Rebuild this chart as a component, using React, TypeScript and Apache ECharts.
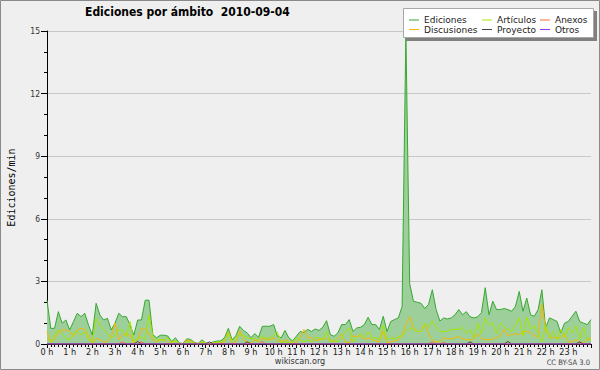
import React, { useEffect, useRef } from "react";
import * as echarts from "echarts";

// 10-minute samples from 0 h to 24 h (145 points)
const STEPS_PER_HOUR = 6;
const HOUR_TICKS = ["0", "1", "2", "3", "4", "5", "6", "7", "8", "9", "10", "11", "12", "13", "14", "15", "16", "17", "18", "19", "20", "21", "22", "23"];

const ediciones = [
  2.1, 0.75, 0.75, 1.55, 1.0, 1.15, 0.67, 1.07, 1.47, 1.31, 1.47, 0.9, 0.43, 1.95, 1.39, 1.15, 1.23, 0.67, 1.0, 1.47,
  1.31, 1.31, 0.9, 0.43, 1.15, 1.15, 2.1, 2.1, 0.45, 0.3, 0.42, 0.42, 0.38, 0.12, 0.3, 0.05, 0.02, 0.25, 0.22, 0.08,
  0.02, 0.2, 0.05, 0.03, 0.1, 0.14, 0.15, 0.3, 0.75, 0.2, 0.4, 0.85, 0.65, 0.53, 0.3, 0.5, 0.32, 0.85, 0.85, 0.85,
  0.93, 0.37, 0.3, 0.65, 0.3, 0.15, 0.37, 0.6, 0.55, 0.7, 0.6, 0.72, 0.65, 0.8, 1.12, 0.45, 0.37, 0.53, 0.93, 0.93,
  1.17, 0.6, 0.77, 0.8, 0.93, 1.28, 0.93, 0.93, 0.7, 1.33, 0.6, 1.08, 1.17, 1.25, 1.8, 14.9, 2.9, 2.05, 2.0, 1.95,
  1.7, 1.9, 2.6, 1.65, 1.1, 1.25, 1.2, 1.25, 1.4, 1.65, 1.4, 1.55, 1.3, 1.25, 1.3, 1.5, 2.7, 1.4, 2.05, 1.65,
  1.65, 1.7, 1.65, 1.57, 1.8, 2.52, 1.57, 2.2, 1.4, 1.33, 1.65, 2.6, 0.77, 1.25, 1.17, 1.08, 0.53, 1.0, 1.08, 1.33,
  1.57, 1.08, 1.0, 0.93, 1.17,
];

const articulos = [
  0.27, 0.1, 0.43, 0.67, 0.5, 0.27, 0.2, 0.5, 0.6, 0.43, 0.6, 0.2, 0.1, 1.23, 0.9, 0.67, 0.5, 0.27, 0.43, 0.67,
  0.67, 0.35, 1.07, 0.1, 0.27, 0.35, 0.2, 1.4, 0.35, 0.2, 0.2, 0.2, 0.3, 0.05, 0.15, 0.02, 0.0, 0.1, 0.1, 0.02,
  0.0, 0.1, 0.05, 0.02, 0.05, 0.1, 0.1, 0.2, 0.5, 0.15, 0.3, 0.45, 0.4, 0.3, 0.25, 0.25, 0.2, 0.4, 0.25, 0.3,
  0.4, 0.58, 0.05, 0.1, 0.05, 0.05, 0.3, 0.2, 0.1, 0.2, 0.1, 0.3, 0.3, 0.2, 0.6, 0.1, 0.2, 0.1, 0.3, 0.6,
  0.77, 0.1, 0.3, 0.5, 0.3, 0.6, 0.3, 0.3, 0.2, 0.9, 0.2, 0.3, 0.25, 0.35, 0.4, 0.6, 0.8, 0.7, 0.6, 0.6,
  1.0, 0.8, 1.1, 0.8, 0.6, 0.6, 0.6, 0.7, 0.7, 0.7, 0.8, 0.5, 0.7, 0.3, 1.0, 0.5, 1.25, 0.9, 1.0, 0.5,
  1.0, 0.8, 0.7, 0.6, 0.9, 1.25, 0.4, 1.3, 0.7, 0.9, 0.5, 0.1, 0.9, 0.3, 0.6, 0.2, 0.7, 0.3, 0.8, 0.5,
  0.9, 0.2, 0.8, 0.2, 0.2,
];

const discusiones = [
  0.6, 0.1, 0.2, 0.6, 0.67, 0.67, 0.6, 0.35, 0.67, 0.75, 0.7, 0.43, 0.03, 0.27, 0.2, 0.1, 0.1, 0.35, 1.0, 0.2,
  0.43, 0.5, 0.43, 0.0, 0.2, 0.75, 0.75, 0.5, 0.2, 0.1, 0.2, 0.2, 0.0, 0.1, 0.15, 0.02, 0.0, 0.2, 0.15, 0.05,
  0.0, 0.1, 0.0, 0.0, 0.05, 0.05, 0.05, 0.1, 0.6, 0.05, 0.1, 0.65, 0.2, 0.1, 0.05, 0.2, 0.1, 0.3, 0.2, 0.2,
  0.3, 0.15, 0.1, 0.2, 0.15, 0.05, 0.05, 0.3, 0.7, 0.3, 0.3, 0.15, 0.2, 0.25, 0.3, 0.15, 0.1, 0.3, 0.45, 0.1,
  0.05, 0.4, 0.35, 0.4, 0.2, 0.3, 0.2, 0.15, 0.1, 0.6, 0.05, 0.1, 0.15, 0.2, 0.4, 0.9, 1.3, 0.8, 0.6, 0.6,
  0.9, 0.5, 0.2, 0.1, 0.1, 0.3, 0.25, 0.25, 0.3, 0.35, 0.25, 0.2, 0.2, 0.25, 0.5, 0.25, 0.2, 0.2, 0.25, 0.3,
  0.4, 0.7, 0.4, 0.45, 0.5, 0.45, 0.6, 0.6, 0.55, 0.4, 0.35, 1.9, 0.7, 0.3, 0.3, 0.3, 0.3, 0.5, 0.1, 0.1,
  0.2, 0.1, 0.05, 0.2, 0.3,
];

const anexos = [
  0, 0, 0, 0, 0, 0, 0, 0, 0, 0, 0, 0, 0, 0, 0, 0, 0, 0, 0, 0,
  0.1, 0, 0, 0, 0, 0.1, 0, 0, 0, 0, 0, 0, 0, 0, 0, 0, 0, 0, 0, 0,
  0, 0, 0, 0, 0, 0, 0, 0, 0, 0, 0, 0, 0, 0, 0, 0, 0, 0.12, 0, 0,
  0, 0, 0, 0, 0, 0, 0, 0, 0, 0, 0, 0, 0, 0, 0, 0, 0, 0, 0, 0,
  0, 0, 0, 0, 0, 0, 0, 0, 0, 0, 0, 0, 0, 0, 0, 0, 0, 0, 0, 0,
  0, 0, 0.1, 0, 0, 0.08, 0, 0, 0, 0, 0, 0, 0, 0, 0, 0, 0, 0, 0, 0,
  0, 0, 0, 0, 0, 0, 0, 0, 0, 0, 0, 0, 0, 0, 0, 0, 0, 0, 0, 0,
  0, 0, 0, 0, 0,
];

const proyecto = [
  0, 0, 0, 0, 0, 0, 0, 0, 0, 0, 0, 0, 0, 0, 0, 0, 0, 0, 0, 0,
  0, 0, 0, 0, 0.12, 0, 0, 0, 0, 0, 0, 0, 0, 0, 0, 0, 0, 0, 0, 0,
  0, 0, 0, 0.1, 0, 0, 0, 0, 0, 0, 0, 0, 0, 0.1, 0, 0, 0, 0, 0, 0,
  0, 0, 0, 0, 0, 0, 0, 0, 0, 0, 0, 0, 0, 0, 0, 0, 0, 0, 0, 0,
  0, 0, 0, 0, 0, 0, 0, 0, 0, 0, 0, 0, 0, 0, 0, 0, 0, 0, 0, 0,
  0, 0, 0, 0, 0, 0, 0, 0, 0, 0, 0, 0, 0.1, 0, 0, 0, 0, 0, 0, 0,
  0, 0, 0.12, 0, 0, 0, 0, 0, 0, 0, 0, 0, 0, 0, 0, 0, 0, 0, 0, 0,
  0, 0.1, 0, 0, 0,
];

const otros = [
  0, 0, 0, 0, 0, 0, 0, 0, 0, 0, 0, 0, 0, 0, 0, 0, 0, 0, 0, 0,
  0, 0, 0, 0, 0, 0, 0, 0, 0, 0, 0, 0, 0, 0, 0, 0, 0, 0, 0, 0,
  0, 0, 0, 0, 0, 0, 0, 0, 0, 0, 0, 0, 0, 0, 0, 0, 0, 0, 0, 0,
  0, 0, 0, 0, 0, 0, 0, 0, 0, 0, 0, 0, 0, 0, 0, 0, 0, 0, 0, 0,
  0, 0, 0, 0, 0, 0, 0, 0, 0, 0, 0, 0, 0, 0, 0, 0, 0, 0, 0, 0,
  0, 0, 0, 0, 0, 0, 0, 0, 0, 0, 0, 0, 0, 0, 0, 0, 0, 0, 0, 0,
  0, 0, 0, 0, 0, 0, 0, 0, 0, 0, 0, 0, 0, 0, 0, 0, 0, 0, 0, 0,
  0, 0, 0, 0, 0,
];

const TITLE = "Ediciones por ámbito  2010-09-04";
const Y_NAME = "Ediciones/min";

const toXY = (arr: number[]) => arr.map((v, i) => [i / STEPS_PER_HOUR, v]);

export default function App() {
  const ref = useRef<HTMLDivElement>(null);
  useEffect(() => {
    if (!ref.current) return;
    const chart = echarts.init(ref.current, null, { renderer: "svg" });
    const font = "DejaVu Sans";
    const cond = "DejaVu Sans Condensed";
    const lineSeries = (name: string, data: number[], color: string, z = 3) => ({
      name,
      type: "line",
      data: toXY(data),
      symbol: "none",
      color,
      lineStyle: { color, width: 1 },
      itemStyle: { color },
      z,
    });
    const legendBase = {
      orient: "vertical",
      top: 15.5,
      padding: 0,
      itemGap: 0.5,
      itemWidth: 10,
      itemHeight: 1,
      icon: "rect",
      z: 12,
      textStyle: { fontFamily: font, fontSize: 9, lineHeight: 9, color: "#222", padding: [0, 0, 0, 0] },
    };
    chart.setOption({
      animation: false,
      backgroundColor: "#efefef",
      title: {
        text: TITLE,
        left: 85,
        top: 6,
        padding: 0,
        textStyle: { fontFamily: cond, fontSize: 12, fontWeight: "bold", color: "#000" },
      },
      legend: [
        { ...legendBase, left: 409, data: ["Ediciones", "Discusiones"] },
        { ...legendBase, left: 482, data: ["Artículos", "Proyecto"] },
        { ...legendBase, left: 540, data: ["Anexos", "Otros"] },
      ],
      grid: { left: 47, right: 9, top: 31, bottom: 26, containLabel: false, outerBoundsMode: "none" },
      xAxis: {
        type: "value",
        min: 0,
        max: 24,
        interval: 1,
        axisLine: { show: true, lineStyle: { color: "#000", width: 1 } },
        axisTick: { show: true, length: 4, lineStyle: { color: "#000" } },
        minorTick: { show: true, splitNumber: 6, length: 3, lineStyle: { color: "#000" } },
        splitLine: { show: false },
        axisLabel: {
          margin: 3,
          fontFamily: cond,
          fontSize: 9,
          color: "#222",
          formatter: (v: number) => (v < 24 ? HOUR_TICKS[v] + " h" : ""),
        },
      },
      yAxis: {
        type: "value",
        min: 0,
        max: 15,
        interval: 3,
        name: Y_NAME,
        nameLocation: "middle",
        nameRotate: 90,
        nameGap: 31,
        nameTextStyle: { fontFamily: "DejaVu Sans Mono", fontSize: 10, color: "#000" },
        axisLine: { show: true, lineStyle: { color: "#000", width: 1 } },
        axisTick: { show: true, length: 6, lineStyle: { color: "#000" } },
        minorTick: { show: true, splitNumber: 3, length: 3, lineStyle: { color: "#000" } },
        splitLine: { show: true, lineStyle: { color: "#c8c8c8", width: 1 } },
        axisLabel: { margin: 7, fontFamily: cond, fontSize: 8.5, color: "#333" },
      },
      series: [
        {
          ...lineSeries("Ediciones", ediciones, "#36a830", 2),
          areaStyle: { color: "#9dcf9a", opacity: 1 },
        },
        lineSeries("Discusiones", discusiones, "#f6b800"),
        lineSeries("Artículos", articulos, "#a6e400"),
        lineSeries("Anexos", anexos, "#ff6a33"),
        lineSeries("Proyecto", proyecto, "#444444"),
        lineSeries("Otros", otros, "#9a33ff"),
      ],
      graphic: [
        { type: "rect", z: 10, shape: { x: 406, y: 11, width: 191, height: 30 }, style: { fill: "#808080" } },
        { type: "rect", z: 11, shape: { x: 403.5, y: 8.5, width: 190, height: 29 }, style: { fill: "#ffffff", stroke: "#a8a8a8", lineWidth: 1 } },
        {
          type: "text",
          z: 10,
          x: 300,
          y: 361,
          style: { text: "wikiscan.org", fontFamily: cond, fontSize: 9, fill: "#333", textAlign: "center", textVerticalAlign: "middle" },
        },
        {
          type: "text",
          z: 10,
          x: 590,
          y: 362,
          style: { text: "CC BY-SA 3.0", fontFamily: cond, fontSize: 7.5, fill: "#444", textAlign: "right", textVerticalAlign: "middle" },
        },
        {
          type: "rect",
          z: 20,
          shape: { x: 0.5, y: 0.5, width: 599, height: 369 },
          style: { fill: "none", stroke: "#8a8a8a", lineWidth: 1 },
          silent: true,
        },
      ],
    });
    return () => chart.dispose();
  }, []);
  return <div ref={ref} style={{ position: "fixed", left: 0, top: 0, width: 600, height: 370 }} />;
}
